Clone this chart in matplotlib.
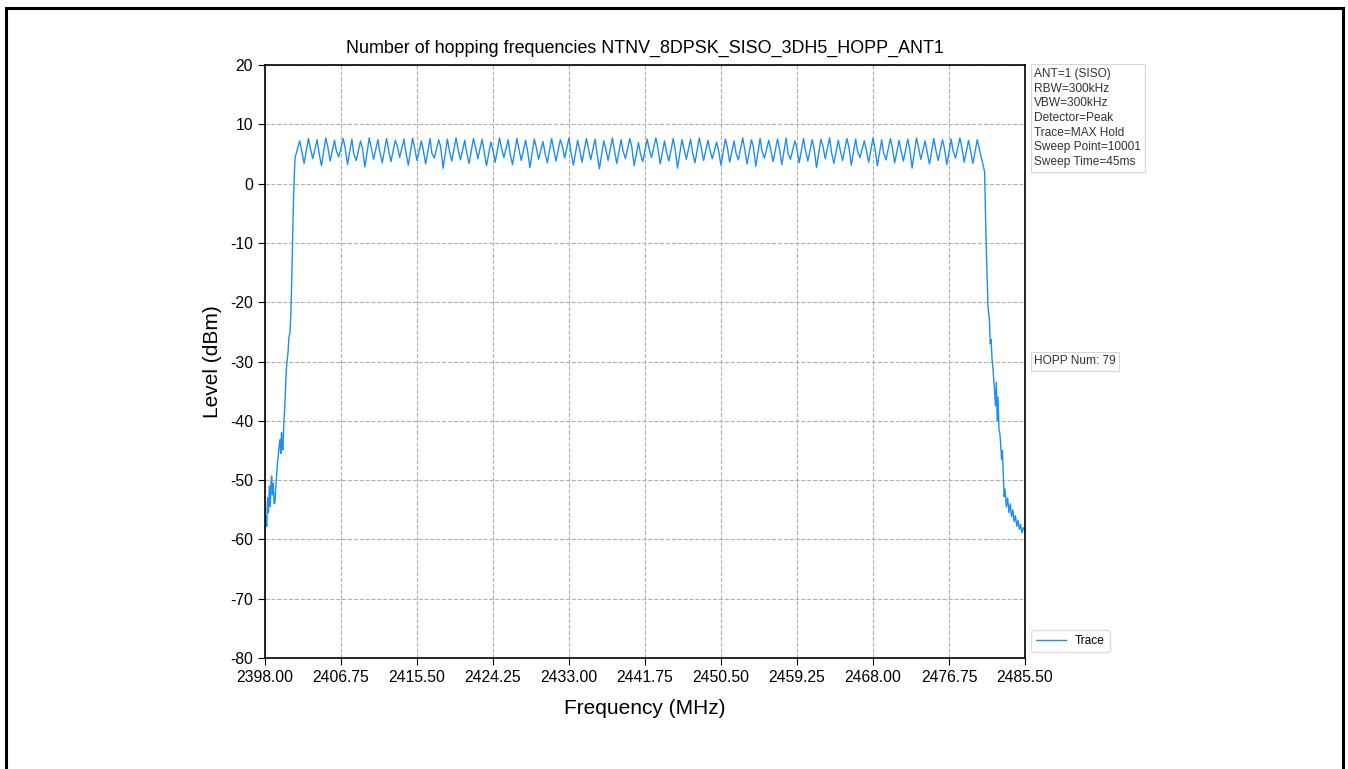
import matplotlib
matplotlib.use("Agg")
import matplotlib.pyplot as plt
from matplotlib.patches import Rectangle

plt.rcParams['font.family'] = ['Liberation Sans', 'DejaVu Sans']
plt.rcParams['axes.unicode_minus'] = False

title = "Number of hopping frequencies NTNV_8DPSK_SISO_3DH5_HOPP_ANT1"
info_text = "ANT=1 (SISO)\nRBW=300kHz\nVBW=300kHz\nDetector=Peak\nTrace=MAX Hold\nSweep Point=10001\nSweep Time=45ms"
hopp_text = "HOPP Num: 79"
x_ticks = [2398.00, 2406.75, 2415.50, 2424.25, 2433.00, 2441.75, 2450.50, 2459.25, 2468.00, 2476.75, 2485.50]
y_ticks = [-80, -70, -60, -50, -40, -30, -20, -10, 0, 10, 20]

# left skirt (MHz, dBm)
left_freq = [2398.00, 2398.10, 2398.20, 2398.30, 2398.40, 2398.50, 2398.60, 2398.70, 2398.77, 2398.85,
             2398.95, 2399.05, 2399.15, 2399.25, 2399.35, 2399.45, 2399.55, 2399.65, 2399.73, 2399.82,
             2399.90, 2400.00, 2400.07, 2400.15, 2400.22, 2400.30, 2400.40, 2400.50, 2400.65, 2400.75,
             2400.88, 2400.98, 2401.10, 2401.20, 2401.30, 2401.40, 2401.48]
left_level = [-58.5, -56.0, -57.8, -53.0, -55.5, -51.0, -54.5, -50.0, -49.3, -52.5,
              -50.5, -54.0, -53.8, -51.0, -49.0, -47.0, -45.5, -44.0, -43.2, -45.5,
              -42.0, -44.5, -44.9, -41.0, -39.0, -36.9, -33.0, -30.5, -28.5, -26.0,
              -25.0, -22.0, -15.0, -8.0, -2.0, 2.5, 4.5]

# right skirt (MHz, dBm)
right_freq = [2480.85, 2480.95, 2481.10, 2481.25, 2481.40, 2481.50, 2481.60, 2481.70, 2481.80, 2481.90,
              2482.00, 2482.10, 2482.20, 2482.30, 2482.40, 2482.50, 2482.60, 2482.70, 2482.80, 2482.90,
              2483.00, 2483.10, 2483.20, 2483.35, 2483.50, 2483.65, 2483.80, 2483.95, 2484.10, 2484.25,
              2484.40, 2484.55, 2484.70, 2484.85, 2485.00, 2485.15, 2485.30, 2485.50]
right_level = [2.0, -5.0, -14.0, -21.0, -22.9, -27.0, -26.3, -29.5, -31.0, -33.0,
               -35.0, -37.5, -33.5, -40.0, -36.0, -41.5, -42.0, -44.0, -46.5, -45.0,
               -49.0, -52.8, -51.5, -54.5, -53.0, -55.5, -54.0, -56.2, -55.0, -57.0,
               -56.0, -57.8, -56.8, -58.3, -57.5, -58.9, -58.0, -58.6]

# hopping channels 2402 ... 2480 MHz : peak level at each channel, valley between channels
chan_freq = list(range(2402, 2481))
peak_level = [7.2, 7.6, 7.4, 7.7, 7.3, 7.6, 7.5, 7.2, 7.7, 7.4,
              7.6, 7.3, 7.5, 7.7, 7.2, 7.6, 7.4, 7.5, 7.7, 7.3,
              7.6, 7.5, 7.0, 7.7, 7.4, 7.6, 7.3, 7.5, 7.1, 7.6,
              7.4, 7.7, 7.3, 7.6, 7.5, 7.2, 7.7, 7.4, 7.6, 6.9,
              7.5, 7.7, 7.2, 7.6, 7.4, 7.5, 7.7, 7.3, 7.0, 7.5,
              7.2, 7.7, 7.4, 7.6, 7.3, 7.5, 7.7, 7.2, 7.6, 7.4,
              7.5, 7.7, 7.3, 7.6, 7.5, 7.2, 7.7, 7.4, 7.6, 7.3,
              7.5, 7.7, 7.2, 7.6, 7.4, 7.5, 7.7, 7.3, 7.4]
shoulder_level = [5.6, 6.0, 5.2, 6.3, 5.5, 6.1, 5.0, 5.9, 6.2, 5.4,
                  5.8, 6.4, 5.3, 6.0, 5.7, 5.1, 6.2, 5.6, 5.9, 5.2,
                  6.3, 5.5, 5.8, 6.1, 5.0, 6.0, 5.6, 6.2, 5.3, 5.9,
                  6.4, 5.4, 5.8, 6.1, 5.2, 6.0, 5.7, 5.5, 6.3, 5.1,
                  5.9, 6.2, 5.4, 5.8, 6.0, 5.3, 6.1, 5.7, 5.6, 6.2,
                  5.2, 5.9, 6.3, 5.5, 5.8, 6.0, 5.1, 6.1, 5.6, 5.9,
                  6.4, 5.3, 5.7, 6.2, 5.5, 5.8, 6.0, 5.2, 6.1, 5.6,
                  5.9, 6.3, 5.4, 5.8, 6.0, 5.5, 6.2, 5.7]
valley_level = [3.4, 4.2, 3.0, 3.8, 4.5, 3.2, 3.9, 2.8, 4.1, 3.5,
                3.7, 4.4, 3.1, 3.9, 3.3, 4.3, 2.6, 3.8, 4.0, 3.4,
                4.2, 3.0, 3.6, 4.4, 3.2, 3.9, 2.7, 4.1, 3.5, 3.8,
                4.3, 3.1, 3.6, 4.0, 2.5, 3.9, 3.4, 4.2, 3.0, 3.7,
                4.4, 3.3, 3.8, 2.6, 4.1, 3.5, 3.9, 4.2, 3.1, 3.6,
                4.0, 3.3, 2.9, 4.3, 3.7, 3.2, 4.1, 3.5, 3.8, 2.7,
                4.2, 3.4, 3.9, 3.1, 4.4, 3.6, 3.0, 4.0, 3.5, 3.8,
                2.6, 4.1, 3.3, 3.9, 3.2, 4.3, 3.6, 3.4]

# assemble trace
fr = list(left_freq)
lv = list(left_level)
for i, f in enumerate(chan_freq):
    fr.append(f); lv.append(peak_level[i])
    if i < len(valley_level):
        fr.append(f + 0.22); lv.append(shoulder_level[i])
        fr.append(f + 0.5); lv.append(valley_level[i])
fr += right_freq
lv += right_level

fig = plt.figure(figsize=(13.48, 7.69), dpi=100)
ax = fig.add_axes([265/1348, 1-658/769, 760/1348, 593/769])
ax.plot(fr, lv, color='#1E8FF0', linewidth=1.0, label='Trace')
ax.set_xlim(2398.0, 2485.5)
ax.set_ylim(-80, 20)
ax.set_xticks(x_ticks)
ax.set_xticklabels([f"{t:.2f}" for t in x_ticks])
ax.set_yticks(y_ticks)
ax.tick_params(labelsize=11.3, length=5)
ax.grid(True, linestyle='--', color='#b0b0b0', linewidth=0.8)
ax.set_title(title, fontsize=12.9, pad=9)
ax.set_xlabel("Frequency (MHz)", fontsize=15, labelpad=10)
ax.set_ylabel("Level (dBm)", fontsize=15, labelpad=6)
for s in ax.spines.values():
    s.set_linewidth(1.2)

box = dict(boxstyle='square,pad=0.3', facecolor='white', edgecolor='#d8d8d8', linewidth=0.8)
ax.text(1.012, 0.995, info_text, transform=ax.transAxes, fontsize=8.6, va='top', ha='left',
        color='#333333', bbox=box, linespacing=1.3)
ax.text(1.012, 0.5, hopp_text, transform=ax.transAxes, fontsize=8.6, va='center', ha='left',
        color='#333333', bbox=box)
ax.legend(loc='lower left', bbox_to_anchor=(1.0, 0.0), fontsize=8.6, frameon=True,
          fancybox=True, edgecolor='#d8d8d8', handlelength=2.5)

fig.patches.append(Rectangle((6/1348, -0.1), 1337/1348, 1.1 - 8/769, transform=fig.transFigure,
                             fill=False, edgecolor='black', linewidth=2.2))
fig.savefig("out.png", dpi=100)
